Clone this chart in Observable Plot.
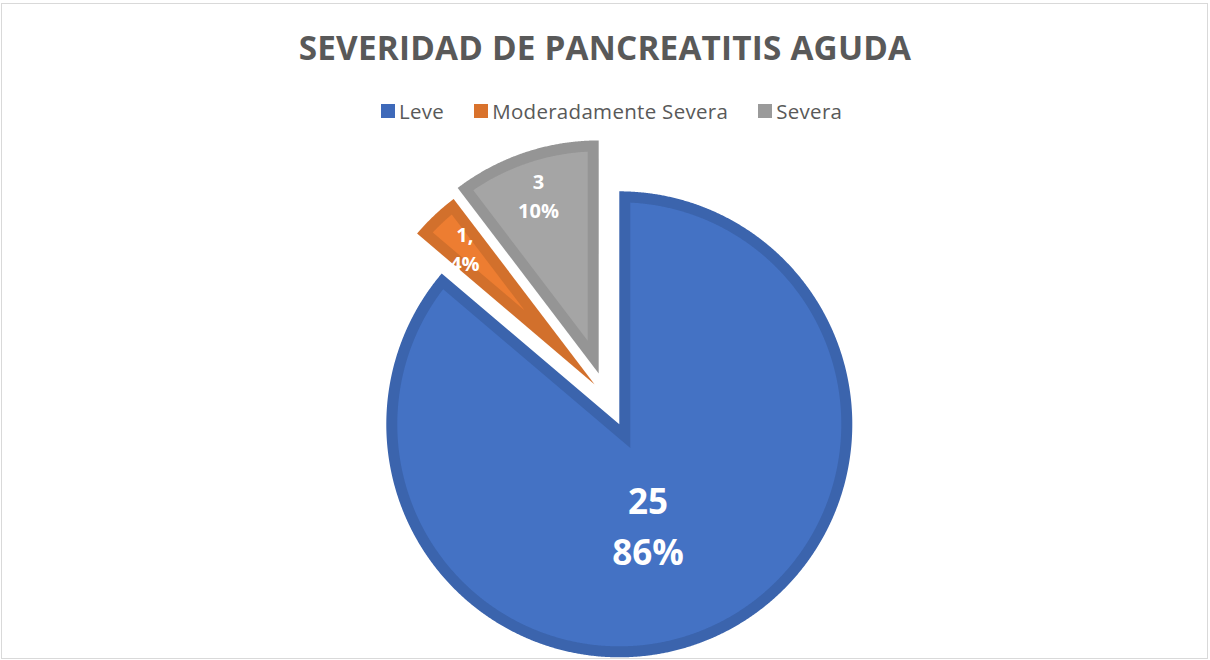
<!DOCTYPE html>
<html>
<head>
<meta charset="utf-8">
<script src="https://cdn.jsdelivr.net/npm/d3@7"></script>
<script src="https://cdn.jsdelivr.net/npm/@observablehq/plot@0.6"></script>
<style>
  body { margin: 0; background: #fff; font-family: "Open Sans", sans-serif; }
  #chart { position: relative; width: 1210px; height: 660px; overflow: hidden; background: #fff; }
  #frame { position: absolute; left: 1px; top: 3px; width: 1205px; height: 654px; border: 1px solid #d9d9d9; }
  #title { position: absolute; top: 31px; left: 0; width: 1210px; text-align: center; font-weight: 700;
           font-size: 33.3px; line-height: 1; color: #595959; letter-spacing: 0.2px; white-space: nowrap; }
  #legend { position: absolute; top: 101px; left: 381px; display: flex; align-items: center;
            font-size: 20.5px; line-height: 1; color: #595959; letter-spacing: 0.3px; white-space: nowrap; }
  .item { display: flex; align-items: center; margin-right: 30px; }
  .sw { width: 14px; height: 14px; margin-right: 4px; }
  #plot { position: absolute; left: 0; top: 130px; }
</style>
</head>
<body>
<div id="chart">
  <div id="frame"></div>
  <div id="title"></div>
  <div id="legend"></div>
  <div id="plot"></div>
</div>
<script>
// ---- data ----
const titleText = "SEVERIDAD DE PANCREATITIS AGUDA";
const categories = ["Leve", "Moderadamente Severa", "Severa"];
const counts = [25, 1, 3];
const countLabels = ["25", "1,", "3"];
const percentLabels = ["86%", "4%", "10%"];

// ---- styling / layout ----
const fills = ["#4472c4", "#ed7d31", "#a5a5a5"];
const borders = ["#3b64ad", "#d2702c", "#959595"];
const swatches = ["#3e69b9", "#d9722c", "#9a9a9a"];
const explode = [30, 17.5, 25];
const layout = { width: 1210, height: 530, cx: 606.2, cy: 266.6, r: 233, border: 11 };
const labelPlace = [{ f: 0.44, shift: 8.6 }, { f: 0.81, shift: 0 }, { f: 0.81, shift: 0 }];
const labelSizes = [35, 20, 20];

document.getElementById("title").textContent = titleText;
const legend = document.getElementById("legend");
categories.forEach((c, i) => {
  const item = document.createElement("div");
  item.className = "item";
  const sw = document.createElement("div");
  sw.className = "sw";
  sw.style.background = swatches[i];
  const tx = document.createElement("span");
  tx.textContent = c;
  item.appendChild(sw);
  item.appendChild(tx);
  legend.appendChild(item);
});

const arcs = d3.pie().sort(null).value(d => d)(counts);
const pt = (cx, cy, r, ang) => [cx + r * Math.sin(ang), cy - r * Math.cos(ang)];
const step = Math.PI / 720;

const outer = [], inner = [], labels = [];
arcs.forEach((a, i) => {
  const a0 = a.startAngle, a1 = a.endAngle;
  const mid = (a0 + a1) / 2;
  const [vx, vy] = pt(layout.cx, layout.cy, explode[i], mid);
  // full wedge (border colour)
  const n = Math.ceil((a1 - a0) / step);
  outer.push({ k: i, x: vx, y: vy });
  for (let j = 0; j <= n; j++) {
    const [x, y] = pt(vx, vy, layout.r, a0 + (a1 - a0) * j / n);
    outer.push({ k: i, x, y });
  }
  outer.push({ k: i, x: vx, y: vy });
  // inset wedge (fill colour)
  const d = layout.border;
  const half = (a1 - a0) / 2;
  const [ix, iy] = pt(vx, vy, d / Math.sin(half), mid);
  const delta = Math.asin(d / (layout.r - d));
  const b0 = a0 + delta, b1 = a1 - delta;
  const m = Math.ceil((b1 - b0) / step);
  inner.push({ k: i, x: ix, y: iy });
  for (let j = 0; j <= m; j++) {
    const [x, y] = pt(vx, vy, layout.r - d, b0 + (b1 - b0) * j / m);
    inner.push({ k: i, x, y });
  }
  inner.push({ k: i, x: ix, y: iy });
  // label
  const lp = labelPlace[i];
  const [lx, ly] = pt(vx, vy, lp.f * layout.r, mid + lp.shift * Math.PI / 180);
  labels.push({ x: lx, y: ly, t: countLabels[i] + "\n" + percentLabels[i], s: labelSizes[i] });
});

const marks = [];
categories.forEach((c, i) => {
  marks.push(Plot.line(outer.filter(d => d.k === i), { x: "x", y: "y", fill: borders[i], stroke: "none" }));
  marks.push(Plot.line(inner.filter(d => d.k === i), { x: "x", y: "y", fill: fills[i], stroke: "none" }));
});
marks.push(Plot.text(labels, {
  x: "x", y: "y", text: "t", fill: "white", fontWeight: "bold", fontSize: "s",
  lineHeight: 1.46, fontFamily: "Open Sans"
}));

const chart = Plot.plot({
  width: layout.width,
  height: layout.height,
  margin: 0,
  x: { domain: [0, layout.width], range: [0, layout.width], axis: null },
  y: { domain: [0, layout.height], range: [0, layout.height], axis: null },
  style: { background: "transparent" },
  marks
});
document.getElementById("plot").appendChild(chart);
</script>
</body>
</html>
